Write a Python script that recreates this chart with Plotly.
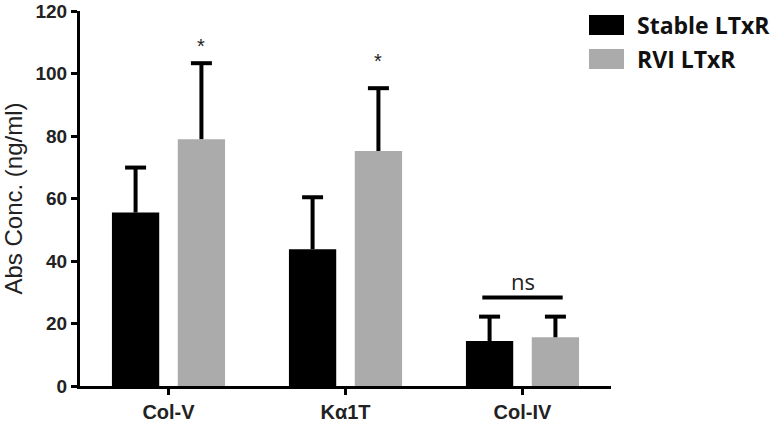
import plotly.graph_objects as go

categories = ["Col-V", "Kα1T", "Col-IV"]
series_names = ["Stable LTxR", "RVI LTxR"]
stable_values = [55.5, 43.8, 14.4]
stable_err_top = [69.9, 60.4, 22.2]
rvi_values = [79.0, 75.2, 15.6]
rvi_err_top = [103.3, 95.3, 22.2]
significance = ["*", "*", "ns"]
significance_y = [108.7, 103.9, 28.3]
y_ticks = [0, 20, 40, 60, 80, 100, 120]

colors = ["#000000", "#ababab"]

W, H = 777, 422
PL, PR, PT, PB = 80, 611, 11, 386  # plot-area pixel box

BARGAP = 0.256
BARGROUPGAP = 0.282
slot = (1 - BARGAP) / 2
offsets = [-slot / 2, slot / 2]
x_idx = list(range(len(categories)))

fig = go.Figure()
for k, (name, vals, tops, col) in enumerate([
    (series_names[0], stable_values, stable_err_top, colors[0]),
    (series_names[1], rvi_values, rvi_err_top, colors[1]),
]):
    fig.add_trace(go.Bar(
        x=x_idx, y=vals, name=name, marker=dict(color=col, line=dict(width=0)),
        error_y=dict(type="data", symmetric=False,
                     array=[t - v for t, v in zip(tops, vals)],
                     arrayminus=[0] * len(vals),
                     color="#000000", thickness=4, width=0),
        showlegend=False,
    ))
for k, tops in enumerate([stable_err_top, rvi_err_top]):
    fig.add_trace(go.Scatter(
        x=[i + offsets[k] for i in x_idx], y=tops, mode="markers",
        marker=dict(symbol="line-ew", size=15, color="#000",
                    line=dict(color="#000", width=4)),
        showlegend=False, hoverinfo="skip",
    ))

# significance marks
for i, (mark, sy) in enumerate(zip(significance, significance_y)):
    if mark == "*":
        fig.add_annotation(x=i + offsets[1], y=sy, text="*", showarrow=False,
                           font=dict(family="Liberation Sans", size=20, color="#222"),
                           yanchor="middle")
    else:
        fig.add_shape(type="line", x0=i - 0.227, x1=i + 0.227, y0=sy, y1=sy,
                      xref="x", yref="y", line=dict(color="#000", width=4))
        fig.add_annotation(x=i, y=sy, yshift=17, text="ns", showarrow=False,
                           font=dict(family="Open Sans", size=22, color="#222"),
                           yanchor="middle")

# manual legend (pixel positions converted to paper coords)
pw, ph = PR - PL, PB - PT
leg_y = [25, 59]
for name, col, yy in zip(series_names, colors, leg_y):
    fig.add_shape(type="rect", xref="paper", yref="paper",
                  x0=(589 - PL) / pw, x1=(624 - PL) / pw,
                  y0=(PB - (yy - 10)) / ph, y1=(PB - (yy + 10)) / ph,
                  fillcolor=col, line=dict(width=0))
    fig.add_annotation(xref="paper", yref="paper", x=(635 - PL) / pw,
                       y=(PB - yy) / ph, text="<b>%s</b>" % name, showarrow=False,
                       xanchor="left", yanchor="middle",
                       font=dict(family="Open Sans", size=23, color="#111"))

fig.update_layout(
    width=W, height=H,
    margin=dict(l=PL, r=W - PR, t=PT, b=H - PB, autoexpand=False),
    paper_bgcolor="white", plot_bgcolor="white",
    barmode="group", bargap=BARGAP, bargroupgap=BARGROUPGAP,
    xaxis=dict(range=[-0.5, 2.5], tickvals=x_idx, ticktext=categories,
               showline=True, linecolor="#000", linewidth=3,
               ticks="outside", ticklen=6, tickwidth=3, tickcolor="#000",
               tickfont=dict(family="Liberation Sans", size=20, color="#222", weight="bold"),
               showgrid=False, zeroline=False),
    yaxis=dict(range=[0, 120], tickvals=y_ticks, showline=True, linecolor="#000", linewidth=3,
               ticks="outside", ticklen=6, tickwidth=3, tickcolor="#000",
               tickfont=dict(family="Liberation Sans", size=19, color="#222", weight="bold"),
               title=dict(text="Abs Conc. (ng/ml)", standoff=17,
                          font=dict(family="Liberation Sans", size=24, color="#222")),
               showgrid=False, zeroline=False),
    font=dict(family="Liberation Sans"),
)

fig.write_html("out.html", config={"displayModeBar": False},
               post_script="document.body.style.margin='0';")
